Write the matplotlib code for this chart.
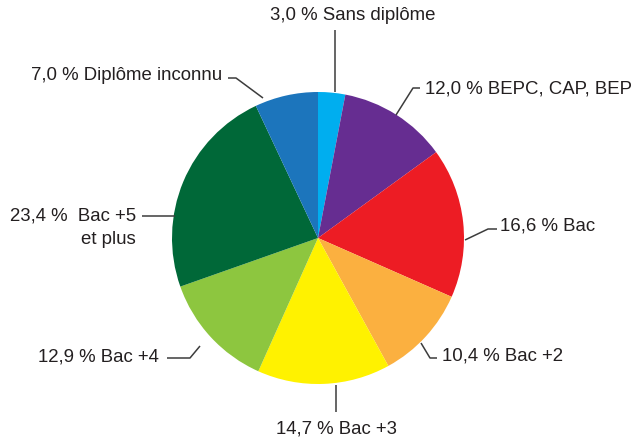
import numpy as np
import matplotlib
matplotlib.use('Agg')
import matplotlib.pyplot as plt

plt.rcParams['font.family'] = ['Liberation Sans', 'DejaVu Sans']

# shares in %, clockwise from 12 o'clock
labels = ['Sans diplôme', 'BEPC, CAP, BEP', 'Bac', 'Bac +2', 'Bac +3',
          'Bac +4', 'Bac +5\net plus', 'Diplôme inconnu']
values = [3.0, 12.0, 16.6, 10.4, 14.7, 12.9, 23.4, 7.0]
colors = ['#00aeef', '#662d91', '#ed1c24', '#fbb040', '#fff200',
          '#8dc63f', '#006838', '#1c75bc']

W, H = 634, 437
fig = plt.figure(figsize=(W / 100, H / 100), dpi=100)
ax = fig.add_axes([0, 0, 1, 1])

cx, cy, r = 318, 238, 146
# y axis is flipped, so counterclock=True draws clockwise on screen
ax.pie(values, colors=colors, startangle=-90, counterclock=True,
       center=(cx, cy), radius=r, frame=True,
       wedgeprops=dict(linewidth=0))
ax.set_xlim(0, W)
ax.set_ylim(H, 0)
ax.set_aspect('equal')
ax.axis('off')

# leader layout: (elbow x, elbow y, end x, text x, text y, ha)
layout = [
    (335, 30, 335, 353, 16, 'center'),
    (413, 88, 420, 425, 89, 'left'),
    (488, 229, 497, 500, 226, 'left'),
    (430, 358, 437, 442, 356, 'left'),
    (336, 412, 336, 336, 429, 'center'),
    (190, 358, 167, 159, 357, 'right'),
    (175, 216, 142, 136, 216, 'right'),
    (236, 78, 228, 222, 76, 'right'),
]
anchors = [(335, 92), (396, 115), (465, 240), (421, 343),
           (336, 385), (200, 346), (175, 216), (263, 98)]

lc = '#3c3c3c'
tc = '#231f20'
fs = 13.4
for lab, v, (ax0, ay0), (ex, ey, endx, tx, ty, ha) in zip(labels, values, anchors, layout):
    ax.plot([ax0, ex, endx], [ay0, ey, ey], color=lc, lw=1.1, solid_capstyle='butt')
    txt = f'{v:.1f}'.replace('.', ',') + ' % '
    if '\n' in lab:
        first, second = lab.split('\n')
        ax.text(tx, ty, txt + ' ' + first, ha='right', va='center', fontsize=fs, color=tc)
        ax.text(tx, ty + 23, second, ha='right', va='center', fontsize=fs, color=tc)
    else:
        ax.text(tx, ty, txt + lab, ha=ha, va='center', fontsize=fs, color=tc)

fig.savefig('out.png', dpi=100)
